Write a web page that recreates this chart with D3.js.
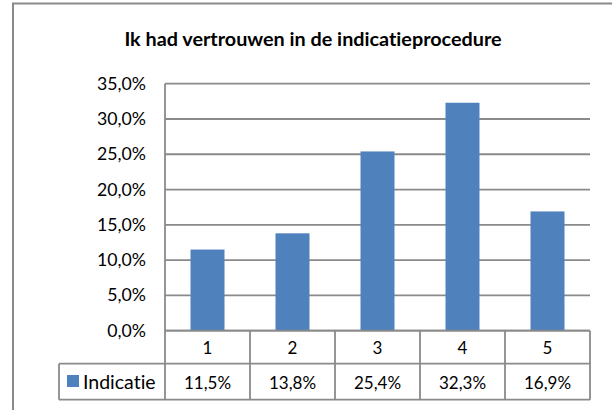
<!DOCTYPE html>
<html>
<head>
<meta charset="utf-8">
<script src="https://cdn.jsdelivr.net/npm/d3@7"></script>
<style>
  html, body { margin: 0; padding: 0; background: #fff; }
  svg { display: block; }
  text { font-family: Lato, "Open Sans", sans-serif; fill: #000; font-variant-ligatures: none; font-feature-settings: "liga" 0, "clig" 0; }
</style>
</head>
<body>
<svg id="chart" width="612" height="410"></svg>
<script>
// Survey answers (scale 1-5) and the share of respondents per answer
const categories = ["1", "2", "3", "4", "5"];
const values = [0.115, 0.138, 0.254, 0.323, 0.169];
const seriesName = "Indicatie";
const yTicks = [0, 0.05, 0.10, 0.15, 0.20, 0.25, 0.30, 0.35];
const title = "Ik had vertrouwen in de indicatieprocedure";

const svg = d3.select("#chart");
const gray = "#8a8a8a";
const barColor = "#4f81bd";

const plot = { left: 165, right: 590, top: 83.7, bottom: 330.7 };
const rowH = 33;

const x = d3.scaleBand()
  .domain(categories)
  .range([plot.left, plot.right])
  .paddingInner(0.6)
  .paddingOuter(0.3);

const y = d3.scaleLinear()
  .domain([0, 0.35])
  .range([plot.bottom, plot.top]);

const pct = v => d3.format(".1f")(v * 100).replace(".", ",") + "%";

// outer chart frame
svg.append("rect")
  .attr("x", 13).attr("y", 3.5)
  .attr("width", 640).attr("height", 440)
  .attr("fill", "#fff").attr("stroke", gray).attr("stroke-width", 2);

// title
svg.append("text")
  .attr("x", 313).attr("y", 46)
  .attr("text-anchor", "middle")
  .attr("font-weight", "bold")
  .attr("font-size", 19.8)
  .text(title);

// horizontal gridlines
svg.append("g").selectAll("line")
  .data(yTicks)
  .join("line")
  .attr("x1", plot.left).attr("x2", plot.right)
  .attr("y1", d => y(d)).attr("y2", d => y(d))
  .attr("stroke", gray).attr("stroke-width", 1.8);

// y tick labels
svg.append("g").selectAll("text")
  .data(yTicks)
  .join("text")
  .attr("x", 146)
  .attr("y", d => y(d) + 6)
  .attr("text-anchor", "end")
  .attr("font-size", 17.7)
  .text(d => pct(d));

// bars
svg.append("g").selectAll("rect")
  .data(values)
  .join("rect")
  .attr("x", (d, i) => x(categories[i]))
  .attr("width", x.bandwidth())
  .attr("y", d => y(d))
  .attr("height", d => y(0) - y(d))
  .attr("fill", barColor);

// data table below the plot
const step = x.step();
const colEdges = d3.range(categories.length + 1).map(i => plot.left + i * step);
const t = svg.append("g").attr("stroke", gray).attr("stroke-width", 1.8).attr("fill", "none");
const r0 = plot.bottom, r1 = r0 + rowH, r2 = r1 + 36;

// y axis line
t.append("line").attr("x1", plot.left).attr("x2", plot.left).attr("y1", plot.top).attr("y2", r2);
// row lines
t.append("line").attr("x1", plot.left).attr("x2", plot.right).attr("y1", r0).attr("y2", r0);
t.append("line").attr("x1", 59).attr("x2", plot.right).attr("y1", r1).attr("y2", r1);
t.append("line").attr("x1", 59).attr("x2", plot.right).attr("y1", r2).attr("y2", r2);
t.append("line").attr("x1", 59).attr("x2", 59).attr("y1", r1).attr("y2", r2);
// column lines
t.selectAll(".col")
  .data(colEdges.slice(1))
  .join("line")
  .attr("x1", d => d).attr("x2", d => d)
  .attr("y1", r0).attr("y2", r2);

// category labels
svg.append("g").selectAll("text")
  .data(categories)
  .join("text")
  .attr("x", d => x(d) + x.bandwidth() / 2)
  .attr("y", r0 + 23)
  .attr("text-anchor", "middle")
  .attr("font-size", 17)
  .text(d => d);

// value labels
svg.append("g").selectAll("text")
  .data(values)
  .join("text")
  .attr("x", (d, i) => x(categories[i]) + x.bandwidth() / 2)
  .attr("y", r1 + 25)
  .attr("text-anchor", "middle")
  .attr("font-size", 17)
  .text(d => pct(d));

// legend key
svg.append("rect")
  .attr("x", 67).attr("y", 375)
  .attr("width", 12).attr("height", 12)
  .attr("fill", barColor);
svg.append("text")
  .attr("x", 83).attr("y", r1 + 25)
  .attr("font-size", 19.5)
  .text(seriesName);
</script>
</body>
</html>
